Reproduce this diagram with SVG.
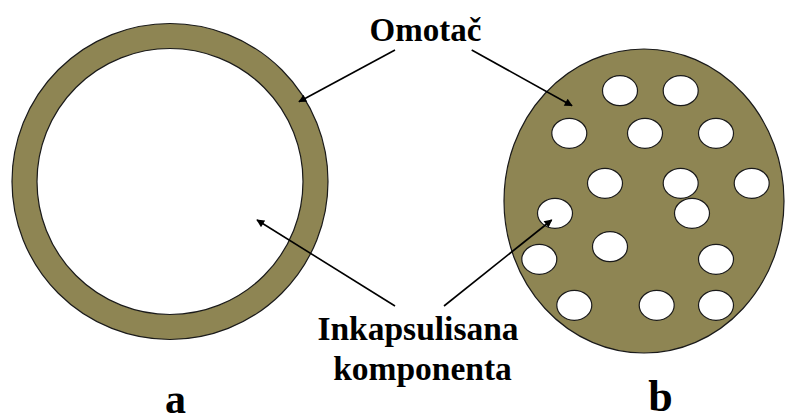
<svg xmlns="http://www.w3.org/2000/svg" width="785" height="416" viewBox="0 0 785 416">
<style>
.shell{fill:#8E8553;stroke:#1a1a1a;stroke-width:1.2}
.core{fill:#ffffff;stroke:#1a1a1a;stroke-width:1.2}
.arr{stroke:#000;stroke-width:1.6;fill:none;marker-end:url(#ah)}
</style>
<defs>
<marker id="ah" viewBox="0 0 10 10" refX="9" refY="5" markerWidth="9" markerHeight="8" markerUnits="userSpaceOnUse" orient="auto">
<path d="M0,0 L10,5 L0,10 z" fill="#000"/>
</marker>
</defs>
<rect width="785" height="416" fill="#fff"/>
<g id="capsule-a">
<circle class="shell" cx="170" cy="181.5" r="158"/>
<circle class="core" cx="170" cy="181.5" r="133"/>
</g>
<g id="capsule-b">
<ellipse class="shell" cx="644" cy="201" rx="140" ry="152"/>
<g class="core">
<ellipse cx="620" cy="90.7" rx="17.5" ry="15"/>
<ellipse cx="680.7" cy="90.7" rx="17.5" ry="15"/>
<ellipse cx="569.3" cy="133.3" rx="17.5" ry="15"/>
<ellipse cx="645" cy="133.3" rx="17.5" ry="15"/>
<ellipse cx="716" cy="133.3" rx="17.5" ry="15"/>
<ellipse cx="605" cy="183.3" rx="17.5" ry="15"/>
<ellipse cx="680.7" cy="183.3" rx="17.5" ry="15"/>
<ellipse cx="751.7" cy="183.3" rx="17.5" ry="15"/>
<ellipse cx="555" cy="213.3" rx="17.5" ry="15"/>
<ellipse cx="692" cy="213.3" rx="17.5" ry="15"/>
<ellipse cx="610" cy="246.7" rx="17.5" ry="15"/>
<ellipse cx="539.3" cy="259.3" rx="17.5" ry="15"/>
<ellipse cx="716" cy="259.3" rx="17.5" ry="15"/>
<ellipse cx="574.3" cy="305.3" rx="17.5" ry="15"/>
<ellipse cx="656.7" cy="305.3" rx="17.5" ry="15"/>
<ellipse cx="716" cy="305.3" rx="17.5" ry="15"/>
</g>
</g>
<g id="connectors">
<line class="arr" x1="395" y1="50" x2="299" y2="101.7"/>
<line class="arr" x1="471.7" y1="50" x2="572" y2="105.7"/>
<line class="arr" x1="395" y1="306" x2="257" y2="220"/>
<line class="arr" x1="444" y1="306" x2="551.7" y2="220"/>
</g>
<g id="labels" font-family="Liberation Serif, Times New Roman, DejaVu Serif, serif" font-weight="bold" fill="#000" text-anchor="middle">
<g id="label-omotac"><text x="425.5" y="40.7" font-size="33">Omotač</text></g>
<g id="label-inkapsulisana">
<text x="418" y="340" font-size="33.5">Inkapsulisana</text>
<text x="422.5" y="380" font-size="33.5">komponenta</text>
</g>
<g id="label-a"><text x="175.5" y="413" font-size="42">a</text></g>
<g id="label-b"><text x="660.5" y="411" font-size="44">b</text></g>
</g>
</svg>
